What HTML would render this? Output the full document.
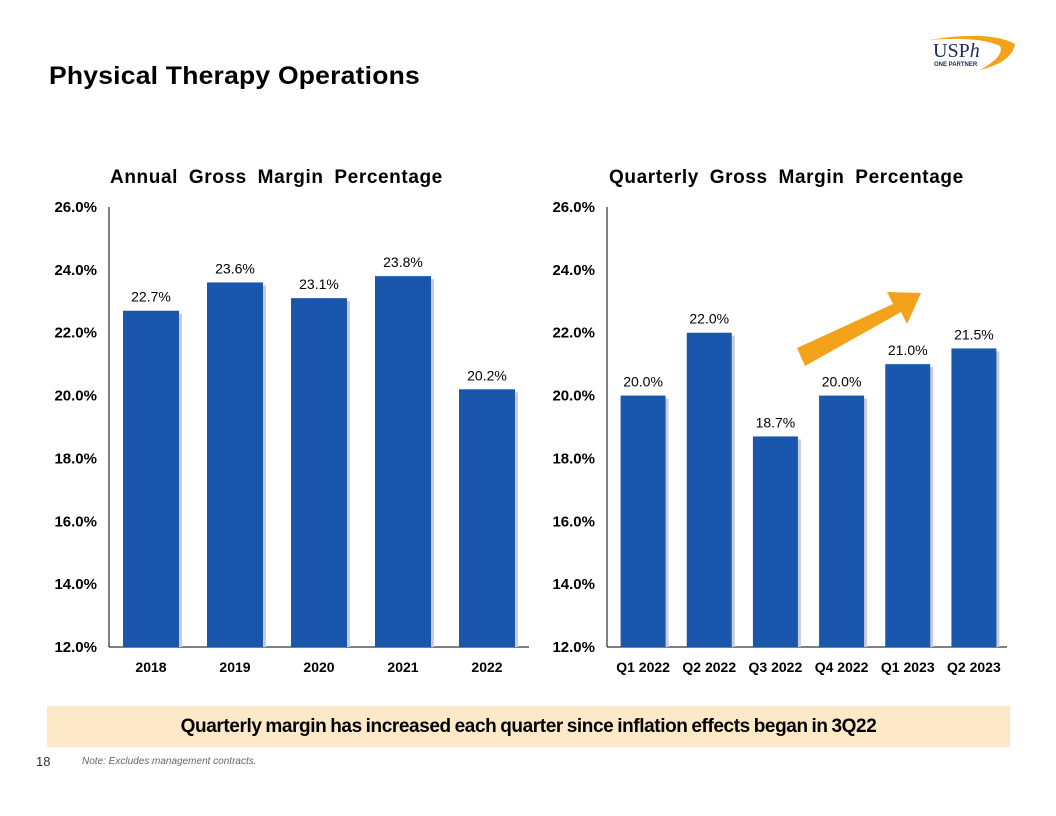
<!DOCTYPE html>
<html><head><meta charset="utf-8"><style>
body{margin:0;width:1056px;height:816px;background:#fff;font-family:"Liberation Sans",Arial,sans-serif;overflow:hidden;position:relative}
.abs{position:absolute}
</style></head><body>
<div class="abs" style="left:49px;top:62px;font-size:25px;font-weight:bold;color:#000;letter-spacing:0.2px;transform:scaleX(1.06);transform-origin:left">Physical Therapy Operations</div>
<svg class="abs" style="left:920px;top:26px" width="110" height="50">
<path d="M8 14 Q70 4 95 18 Q92 36 60 44 Q85 30 80 20 Q60 10 8 14Z" fill="#f5a21b"/>
<text x="13" y="31" font-family="Liberation Serif" font-size="20" fill="#1a2a5a">USP<tspan font-style="italic">h</tspan></text>
<text x="14" y="40" font-size="6" font-weight="bold" fill="#1a2a5a">ONE PARTNER</text>
</svg>
<svg id="chart" class="abs" style="left:0;top:0" width="1056" height="816"></svg>
<div class="abs" style="left:47px;top:706px;width:963px;height:41px;background:#fde9c8;text-align:center;line-height:41px;font-size:19px;font-weight:bold;letter-spacing:-0.4px;word-spacing:-1px">Quarterly margin has increased each quarter since inflation effects began in 3Q22</div>
<div class="abs" style="left:36px;top:754px;font-size:13px;color:#333">18</div>
<div class="abs" style="left:82px;top:756px;font-size:10px;font-style:italic;color:#666">Note: Excludes management contracts.</div>
<script>
const annualCats=["2018","2019","2020","2021","2022"];
const annualVals=[22.7,23.6,23.1,23.8,20.2];
const quarterCats=["Q1 2022","Q2 2022","Q3 2022","Q4 2022","Q1 2023","Q2 2023"];
const quarterVals=[20.0,22.0,18.7,20.0,21.0,21.5];
const yTicks=[12,14,16,18,20,22,24,26];
const svg=document.getElementById('chart');
const NS='http://www.w3.org/2000/svg';
function mk(tag,attrs,txt){const e=document.createElementNS(NS,tag);for(const k in attrs)e.setAttribute(k,attrs[k]);if(txt!=null)e.textContent=txt;svg.appendChild(e);return e;}
const yTop=207,yBot=647,yMin=12,yMax=26;
function y(v){return yBot-(v-yMin)/(yMax-yMin)*(yBot-yTop);}
function chart(axX,x0,w,cats,vals,barW,title,tx,prefix){
  const t=mk('text',{x:tx,y:183,'font-size':19,'font-weight':'bold','word-spacing':5,'letter-spacing':0.6},title);
  
  const ax=mk('line',{x1:axX,y1:yTop,x2:axX,y2:yBot,stroke:'#000','stroke-width':1});
  
  const bx=mk('line',{x1:axX,y1:yBot,x2:x0+w,y2:yBot,stroke:'#000','stroke-width':1});
  
  yTicks.forEach(v=>{const l=mk('text',{x:axX-12,y:y(v)+5,'font-size':15,'font-weight':'bold','text-anchor':'end'},v.toFixed(1)+'%');
    });
  const cw=w/cats.length;
  cats.forEach((c,i)=>{const cx=x0+cw*(i+0.5);
    const sh=mk('rect',{x:cx-barW/2+3,y:y(vals[i])+3,width:barW,height:yBot-y(vals[i])-3,fill:'#c8ccd4'});
    
    const b=mk('rect',{x:cx-barW/2,y:y(vals[i]),width:barW,height:yBot-y(vals[i]),fill:'#1b56ad'});
    
    const v=mk('text',{x:cx,y:y(vals[i])-9,'font-size':14,'text-anchor':'middle'},vals[i].toFixed(1)+'%');
    
    const l=mk('text',{x:cx,y:yBot+25,'font-size':14,'font-weight':'bold','text-anchor':'middle'},c);
    
  });
}
chart(109,109,420,annualCats,annualVals,56,'Annual Gross Margin Percentage',110,'annual');
chart(607,610,397,quarterCats,quarterVals,45,'Quarterly Gross Margin Percentage',609,'quarterly');
const arr=mk('polygon',{points:'797,348 893,304 887,292 921,293 907,324 901,312 805,366',fill:'#f5a21b'});


</script>
</body></html>
